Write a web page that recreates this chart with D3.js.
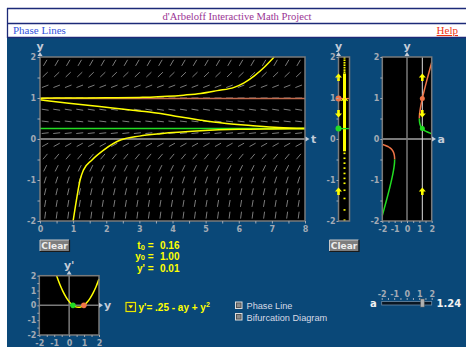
<!DOCTYPE html>
<html><head><meta charset="utf-8">
<script src="https://cdn.jsdelivr.net/npm/d3@7"></script>
<style>body{margin:0;background:#fff;} svg{display:block;}</style>
</head><body>
<svg id="c" width="466" height="347"></svg>
<script>
// ---------- DATA ----------
const eqConst = 0.25;            // y' = .25 - a y + y^2
const aValue = 1.24;
const t0Value = "0.16", y0Value = "1.00", yPrimeValue = "0.01";
const equilibria = [ {y: 0.9866, kind: "unstable"}, {y: 0.2534, kind: "stable"} ];
const tTicks = [0,1,2,3,4,5,6,7,8];
const yTicks = [-2,-1,0,1,2];
const aTicks = [-2,-1,0,1,2];
// solution curves (t, y)
const curveUp   = [[0,0.995],[1,1.0],[2,1.005],[3,1.015],[3.33,1.02],[3.84,1.04],[4.34,1.07],[4.85,1.11],[5.35,1.18],[5.86,1.26],[6.16,1.37],[6.47,1.54],[6.77,1.75],[7.07,2.0]];
const curveDown = [[0,0.955],[0.8,0.88],[1.8,0.79],[2.8,0.70],[3.3,0.66],[3.64,0.62],[4.2,0.54],[4.85,0.46],[5.5,0.39],[6.36,0.33],[7.2,0.28],[8,0.26]];
const curveRise = [[1,-2],[1.1,-1.49],[1.21,-1.0],[1.31,-0.76],[1.57,-0.51],[1.92,-0.27],[2.45,-0.02],[3,0.07],[3.64,0.13],[4.85,0.2],[6,0.235],[7,0.245],[8,0.25]];
// phase line trace
const traceDotsY = [1.98,1.92,1.86,1.80,1.74,1.68,1.63,-0.35,-0.47,-0.59,-0.71,-0.84,-0.96,-1.08,-1.25,-1.45,-1.73,-1.98];
const traceSolid = [1.6, -0.3];
const arrowYs = [1.5, 0.62, -1.28];
const arrowDirs = ["up","down","up"];
// bifurcation branches (a, y)
const bifUnstableRight = [[1.0,0.5],[1.01,0.576],[1.03,0.638],[1.06,0.706],[1.1,0.779],[1.2,0.932],[1.3,1.065],[1.4,1.19],[1.5,1.309],[1.6,1.425],[1.7,1.537],[1.8,1.648],[1.9,1.758],[2.0,1.866]];
const bifStableRight   = [[1.0,0.5],[1.01,0.434],[1.03,0.392],[1.06,0.354],[1.1,0.321],[1.2,0.268],[1.3,0.235],[1.4,0.21],[1.5,0.191],[1.6,0.176],[1.7,0.163],[1.8,0.152],[1.9,0.142],[2.0,0.134]];
const bifUnstableLeft  = [[-1.0,-0.5],[-1.01,-0.434],[-1.03,-0.392],[-1.06,-0.354],[-1.1,-0.321],[-1.2,-0.268],[-1.3,-0.235],[-1.4,-0.21],[-1.5,-0.191],[-1.6,-0.176],[-1.7,-0.163],[-1.8,-0.152],[-1.9,-0.142],[-2.0,-0.134]];
const bifStableLeft    = [[-1.0,-0.5],[-1.01,-0.576],[-1.03,-0.638],[-1.06,-0.706],[-1.1,-0.779],[-1.2,-0.932],[-1.3,-1.065],[-1.4,-1.19],[-1.5,-1.309],[-1.6,-1.425],[-1.7,-1.537],[-1.8,-1.648],[-1.9,-1.758],[-2.0,-1.866]];
// y' vs y parabola (y, y')
const parabola = [[-0.84,1.997],[-0.6,1.354],[-0.4,0.906],[-0.2,0.538],[0,0.25],[0.2,0.042],[0.4,-0.086],[0.62,-0.134],[0.8,-0.102],[1.0,0.01],[1.2,0.202],[1.4,0.474],[1.6,0.826],[1.8,1.258],[2.0,1.77]];

// ---------- STYLE ----------
const BLUE = "#0a4878", NAVY = "#1c2a78", GRID = "#7c7c7c", FRAME = "#7a7a7a";
const YEL = "#ffff00", ORG = "#f07548", ORGL = "#c26a4c", GRN = "#22dd22";
const TICKC = "#a3abb5", LABC = "#c4ccd8";
const SANS = "'DejaVu Sans', Verdana, sans-serif";
const ARIAL = "'Liberation Sans', Arial, sans-serif";
const SERIF = "'Liberation Serif', 'Times New Roman', serif";

const svg = d3.select("#c");
svg.append("rect").attr("width",466).attr("height",347).attr("fill","#fff");
svg.append("rect").attr("x",7).attr("y",38).attr("width",459).attr("height",309).attr("fill",BLUE);

// header
const hdr = svg.append("g");
[8.5,23.5,37.5].forEach(y=>hdr.append("line").attr("x1",7).attr("x2",466).attr("y1",y).attr("y2",y).attr("stroke",NAVY).attr("stroke-width",1.3));
hdr.append("line").attr("x1",7.5).attr("x2",7.5).attr("y1",8).attr("y2",38).attr("stroke",NAVY).attr("stroke-width",1.3);
hdr.append("text").attr("x",237).attr("y",19.8).attr("text-anchor","middle").attr("font-family",SERIF).attr("font-size",10.6).attr("fill","#9a3494").text("d'Arbeloff Interactive Math Project");
hdr.append("text").attr("x",13).attr("y",34).attr("font-family",SERIF).attr("font-size",11).attr("fill","#3355dd").text("Phase Lines");
hdr.append("text").attr("x",458).attr("y",34).attr("text-anchor","end").attr("font-family",SERIF).attr("font-size",11).attr("fill","#ee3311").attr("text-decoration","underline").text("Help");

// helpers
function styleAxis(g){
  g.select(".domain").remove();
  g.selectAll("line").attr("stroke",TICKC);
  g.selectAll("text").attr("fill",TICKC).attr("font-family",SANS).attr("font-size",8).attr("font-weight","bold");
}
function axisLabel(x,y,txt,anchor){
  svg.append("text").attr("x",x).attr("y",y).attr("text-anchor",anchor||"middle").attr("dominant-baseline","central")
    .attr("font-family",SANS).attr("font-size",11).attr("font-weight","bold").attr("fill",LABC).text(txt);
}
function arrowUpHead(x,y){ svg.append("path").attr("d",`M${x-2.5},${y+3}L${x},${y-1}L${x+2.5},${y+3}Z`).attr("fill",LABC); }
function arrowRightHead(x,y){ svg.append("path").attr("d",`M${x-3},${y-2.5}L${x+1},${y}L${x-3},${y+2.5}Z`).attr("fill",LABC); }
function blockArrow(g,x,y,dir){
  const s = dir==="up"?-1:1;
  g.append("path").attr("d",`M${x},${y+s*4} L${x+3.5},${y} L${x+1.3},${y} L${x+1.3},${y-s*3.5} L${x-1.3},${y-s*3.5} L${x-1.3},${y} L${x-3.5},${y} Z`).attr("fill",YEL);
}
function frame(x0,y0,x1,y1){
  svg.append("rect").attr("x",x0).attr("y",y0).attr("width",x1-x0).attr("height",y1-y0).attr("fill","none").attr("stroke",FRAME).attr("stroke-width",1.5);
}

// ---------- MAIN SLOPE FIELD PLOT ----------
const xM = d3.scaleLinear().domain([0,8]).range([40,305]);
const yM = d3.scaleLinear().domain([-2,2]).range([221,57]);
svg.append("rect").attr("x",40).attr("y",57).attr("width",265).attr("height",164).attr("fill","#000");
const f = y => eqConst - aValue*y + y*y;
const nCols = 23, nRows = 14, segLen = 7;
const field = [];
for(let i=0;i<nCols;i++) for(let j=0;j<nRows;j++){
  const t = (i+0.45)*8/nCols, y = -2 + (j+0.5)*4/nRows;
  field.push({t,y,s:f(y)});
}
const pxPerT = xM(1)-xM(0), pxPerY = yM(0)-yM(1);
svg.append("g").selectAll("line").data(field).join("line")
  .each(function(d){
    const dx = pxPerT, dy = -d.s*pxPerY, L = Math.hypot(dx,dy);
    const ux = dx/L*segLen/2, uy = dy/L*segLen/2;
    const cx = xM(d.t), cy = yM(d.y);
    d3.select(this).attr("x1",cx-ux).attr("y1",cy-uy).attr("x2",cx+ux).attr("y2",cy+uy);
  }).attr("stroke",GRID).attr("stroke-width",1);
// equilibrium lines
svg.append("line").attr("x1",xM(0)).attr("x2",xM(8)).attr("y1",yM(equilibria[0].y)).attr("y2",yM(equilibria[0].y)).attr("stroke",ORGL).attr("stroke-width",1.5);
svg.append("line").attr("x1",xM(0)).attr("x2",xM(8)).attr("y1",yM(equilibria[1].y)).attr("y2",yM(equilibria[1].y)).attr("stroke",GRN).attr("stroke-width",1.5);
// y=0 axis
svg.append("line").attr("x1",xM(0)).attr("x2",xM(8)).attr("y1",yM(0)).attr("y2",yM(0)).attr("stroke",FRAME).attr("stroke-width",2);
// solution curves
const solLine = d3.line().x(d=>xM(d[0])).y(d=>yM(d[1])).curve(d3.curveMonotoneX);
[curveUp,curveDown,curveRise].forEach(c=>svg.append("path").attr("d",solLine(c)).attr("fill","none").attr("stroke",YEL).attr("stroke-width",1.5));
frame(40,57,305,221);
// axes
styleAxis(svg.append("g").attr("transform","translate(40,0)").call(d3.axisLeft(yM).tickValues(yTicks).tickSize(0).tickPadding(4).tickFormat(String)));
styleAxis(svg.append("g").attr("transform","translate(40,0)").call(d3.axisLeft(yM).tickValues(d3.range(-2,2.01,0.5)).tickSize(2.5).tickFormat("")));
styleAxis(svg.append("g").attr("transform","translate(0,221)").call(d3.axisBottom(xM).tickValues(tTicks).tickSize(0).tickPadding(5).tickFormat(String)));
styleAxis(svg.append("g").attr("transform","translate(0,221)").call(d3.axisBottom(xM).tickValues(d3.range(0,8.01,0.5)).tickSize(2.5).tickFormat("")));
arrowUpHead(40,53); axisLabel(40,46.5,"y");
arrowRightHead(308.5,139); axisLabel(311,139,"t","start");

// ---------- PHASE LINE ----------
const xP0 = 338.5, xP1 = 349.5, xPT = 344.5;
svg.append("rect").attr("x",xP0).attr("y",57).attr("width",xP1-xP0).attr("height",164).attr("fill","#000");
const pg = svg.append("g");
pg.append("line").attr("x1",xPT).attr("x2",xPT).attr("y1",yM(traceSolid[0])).attr("y2",yM(traceSolid[1])).attr("stroke",YEL).attr("stroke-width",3);
pg.selectAll("rect.d").data(traceDotsY).join("rect").attr("x",xPT-1).attr("y",d=>yM(d)-0.8).attr("width",2).attr("height",1.6).attr("fill",YEL);
frame(xP0,57,xP1,221);
pg.append("line").attr("x1",xP0).attr("x2",xP1+0.5).attr("y1",yM(equilibria[0].y)).attr("y2",yM(equilibria[0].y)).attr("stroke",ORG).attr("stroke-width",1.3);
pg.append("line").attr("x1",xP0).attr("x2",xP1+0.5).attr("y1",yM(equilibria[1].y)).attr("y2",yM(equilibria[1].y)).attr("stroke",GRN).attr("stroke-width",1.3);
svg.append("circle").attr("cx",xP0).attr("cy",yM(equilibria[0].y)).attr("r",3).attr("fill",ORG);
svg.append("circle").attr("cx",xP0).attr("cy",yM(equilibria[1].y)).attr("r",3).attr("fill",GRN);
arrowYs.forEach((y,i)=>blockArrow(svg,xP0,yM(y),arrowDirs[i]));
svg.append("path").attr("d",`M${xPT-3},${yM(0.93)} L${xPT},${yM(1.02)} L${xPT+3},${yM(0.93)}`).attr("fill","none").attr("stroke",YEL).attr("stroke-width",1.3);
styleAxis(svg.append("g").attr("transform",`translate(${xP0},0)`).call(d3.axisLeft(yM).tickValues(yTicks).tickSize(0).tickPadding(3).tickFormat(String)));
styleAxis(svg.append("g").attr("transform",`translate(${xP0},0)`).call(d3.axisLeft(yM).tickValues(d3.range(-2,2.01,0.5)).tickSize(2).tickFormat("")));
arrowUpHead(xP0,53); axisLabel(xP0,46.5,"y");
// clear button
function clearBtn(x,y){
  svg.append("rect").attr("x",x).attr("y",y).attr("width",29).attr("height",11).attr("fill","#7d7d7d");
  svg.append("path").attr("d",`M${x},${y+11}L${x},${y}L${x+29},${y}`).attr("fill","none").attr("stroke","#c8c8c8").attr("stroke-width",1);
  svg.append("path").attr("d",`M${x},${y+11.5}L${x+29.5},${y+11.5}L${x+29.5},${y}`).attr("fill","none").attr("stroke","#1a1a1a").attr("stroke-width",1.2);
  svg.append("text").attr("x",x+14.5).attr("y",y+9).attr("text-anchor","middle").attr("font-family",SANS).attr("font-size",9).attr("font-weight","bold").attr("fill","#eeeeee").text("Clear");
}
clearBtn(40,240);
clearBtn(329.5,240);

// ---------- BIFURCATION ----------
const xB = d3.scaleLinear().domain([-2,2]).range([382.3,431.7]);
svg.append("rect").attr("x",xB(-2)).attr("y",57).attr("width",xB(2)-xB(-2)).attr("height",164).attr("fill","#000");
svg.append("line").attr("x1",xB(0)).attr("x2",xB(0)).attr("y1",57).attr("y2",221).attr("stroke",FRAME).attr("stroke-width",1.5);
svg.append("line").attr("x1",xB(-2)).attr("x2",xB(2)).attr("y1",yM(0)).attr("y2",yM(0)).attr("stroke",FRAME).attr("stroke-width",2);
svg.append("line").attr("x1",xB(aValue)).attr("x2",xB(aValue)).attr("y1",57).attr("y2",221).attr("stroke","#dddddd").attr("stroke-width",1);
const bifLine = d3.line().x(d=>xB(d[0])).y(d=>yM(d[1])).curve(d3.curveMonotoneY);
svg.append("path").attr("d",bifLine(bifUnstableRight)).attr("fill","none").attr("stroke",ORG).attr("stroke-width",1.5);
svg.append("path").attr("d",bifLine(bifStableRight)).attr("fill","none").attr("stroke",GRN).attr("stroke-width",1.5);
svg.append("path").attr("d",bifLine(bifUnstableLeft)).attr("fill","none").attr("stroke",ORG).attr("stroke-width",1.5);
svg.append("path").attr("d",bifLine(bifStableLeft)).attr("fill","none").attr("stroke",GRN).attr("stroke-width",1.5);
svg.append("circle").attr("cx",xB(aValue)).attr("cy",yM(equilibria[0].y)).attr("r",2.5).attr("fill",ORG);
svg.append("circle").attr("cx",xB(aValue)).attr("cy",yM(equilibria[1].y)).attr("r",2.5).attr("fill",GRN);
arrowYs.forEach((y,i)=>blockArrow(svg,xB(aValue),yM(y),arrowDirs[i]));
frame(xB(-2),57,xB(2),221);
styleAxis(svg.append("g").attr("transform",`translate(${xB(-2)},0)`).call(d3.axisLeft(yM).tickValues(yTicks).tickSize(0).tickPadding(3).tickFormat(String)));
styleAxis(svg.append("g").attr("transform",`translate(${xB(-2)},0)`).call(d3.axisLeft(yM).tickValues(d3.range(-2,2.01,0.5)).tickSize(2).tickFormat("")));
styleAxis(svg.append("g").attr("transform","translate(0,221)").call(d3.axisBottom(xB).tickValues(aTicks).tickSize(0).tickPadding(5).tickFormat(String)));
styleAxis(svg.append("g").attr("transform","translate(0,221)").call(d3.axisBottom(xB).tickValues(d3.range(-2,2.01,0.5)).tickSize(2).tickFormat("")));
arrowUpHead(xB(0),53); axisLabel(xB(0),46.5,"y");
arrowRightHead(435,139); axisLabel(437.5,139.5,"a","start");

// ---------- y' vs y SMALL PLOT ----------
const xS = d3.scaleLinear().domain([-2,2]).range([39.3,99]);
const yS = d3.scaleLinear().domain([-2,2]).range([335,275.7]);
svg.append("rect").attr("x",xS(-2)).attr("y",yS(2)).attr("width",xS(2)-xS(-2)).attr("height",yS(-2)-yS(2)).attr("fill","#000");
svg.append("line").attr("x1",xS(0)).attr("x2",xS(0)).attr("y1",yS(2)).attr("y2",yS(-2)).attr("stroke",FRAME).attr("stroke-width",1.5);
svg.append("line").attr("x1",xS(-2)).attr("x2",xS(2)).attr("y1",yS(0)).attr("y2",yS(0)).attr("stroke",FRAME).attr("stroke-width",1.5);
svg.append("path").attr("d",d3.line().x(d=>xS(d[0])).y(d=>yS(d[1])).curve(d3.curveMonotoneX)(parabola)).attr("fill","none").attr("stroke",YEL).attr("stroke-width",1.5);
svg.append("circle").attr("cx",xS(equilibria[1].y)).attr("cy",yS(0)).attr("r",2.8).attr("fill",GRN);
svg.append("circle").attr("cx",xS(equilibria[0].y)).attr("cy",yS(0)).attr("r",2.8).attr("fill",ORG);
frame(xS(-2),yS(2),xS(2),yS(-2));
styleAxis(svg.append("g").attr("transform",`translate(${xS(-2)},0)`).call(d3.axisLeft(yS).tickValues(yTicks).tickSize(0).tickPadding(3).tickFormat(String)));
styleAxis(svg.append("g").attr("transform",`translate(${xS(-2)},0)`).call(d3.axisLeft(yS).tickValues(d3.range(-2,2.01,0.5)).tickSize(2).tickFormat("")));
styleAxis(svg.append("g").attr("transform",`translate(0,${yS(-2)})`).call(d3.axisBottom(xS).tickValues(yTicks).tickSize(0).tickPadding(5).tickFormat(String)));
styleAxis(svg.append("g").attr("transform",`translate(0,${yS(-2)})`).call(d3.axisBottom(xS).tickValues(d3.range(-2,2.01,0.5)).tickSize(2).tickFormat("")));
arrowUpHead(xS(0),271.5); axisLabel(xS(0),265.5,"y'");
arrowRightHead(102,yS(0)); axisLabel(104,yS(0)+0.5,"y","start");

// ---------- TEXT READOUTS ----------
const tg = svg.append("g").attr("font-family",ARIAL).attr("font-weight","bold").attr("font-size",10).attr("fill",YEL);
const r1 = tg.append("text").attr("x",153.5).attr("y",248.5).attr("text-anchor","end");
r1.append("tspan").text("t"); r1.append("tspan").attr("dy",1.5).attr("font-size",7.5).text("0"); r1.append("tspan").attr("dy",-1.5).text(" =");
const r2 = tg.append("text").attr("x",153.5).attr("y",260.3).attr("text-anchor","end");
r2.append("tspan").text("y"); r2.append("tspan").attr("font-size",7.5).text("0"); r2.append("tspan").text(" =");
tg.append("text").attr("x",153.5).attr("y",272.1).attr("text-anchor","end").text("y' =");
tg.append("text").attr("x",160).attr("y",248.5).text(t0Value);
tg.append("text").attr("x",160).attr("y",260.3).text(y0Value);
tg.append("text").attr("x",160).attr("y",272.1).text(yPrimeValue);

// equation with dropdown
svg.append("rect").attr("x",126).attr("y",302.5).attr("width",9.5).attr("height",9).attr("fill","#1d3a5a").attr("stroke","#e8e800").attr("stroke-width",1.2);
svg.append("path").attr("d","M128.3,305.3L133.2,305.3L130.75,308.6Z").attr("fill",YEL);
const eq = tg.append("text").attr("x",138.5).attr("y",311);
eq.append("tspan").text("y'= .25 - ay + y");
eq.append("tspan").attr("dy",-4).attr("font-size",7).text("2");

// checkboxes
function checkbox(y,label){
  svg.append("rect").attr("x",235.5).attr("y",y).attr("width",6.5).attr("height",6.5).attr("fill","#555").attr("stroke","#dddddd").attr("stroke-width",1);
  svg.append("rect").attr("x",237).attr("y",y+1.5).attr("width",3.5).attr("height",3.5).attr("fill","#8a8a8a");
  svg.append("text").attr("x",246.5).attr("y",y+7).attr("font-family",ARIAL).attr("font-size",9.2).attr("fill","#d6dae6").text(label);
}
checkbox(302,"Phase Line");
checkbox(313.5,"Bifurcation Diagram");

// slider
const xSl = d3.scaleLinear().domain([-2,2]).range([381.7,431.7]);
svg.append("text").attr("x",373.3).attr("y",303.5).attr("text-anchor","middle").attr("dominant-baseline","central").attr("font-family",SANS).attr("font-size",10).attr("font-weight","bold").attr("fill","#f2f2f2").text("a");
svg.append("rect").attr("x",xSl(-2)).attr("y",301.5).attr("width",xSl(2)-xSl(-2)).attr("height",3.5).attr("fill","#081522").attr("stroke","#6d8aa6").attr("stroke-width",0.8);
const slAx = svg.append("g").attr("transform","translate(0,300)").call(d3.axisTop(xSl).tickValues(d3.range(-2,2.01,0.5)).tickSize(2).tickFormat(""));
styleAxis(slAx);
const slLab = svg.append("g").attr("transform","translate(0,298)").call(d3.axisTop(xSl).tickValues(aTicks).tickSize(0).tickPadding(1).tickFormat(String));
styleAxis(slLab);
svg.append("rect").attr("x",xSl(aValue)-1.5).attr("y",299).attr("width",3.5).attr("height",8).attr("fill","#b0b0b0").attr("stroke","#666").attr("stroke-width",0.5);
svg.append("text").attr("x",436.5).attr("y",303.5).attr("dominant-baseline","central").attr("font-family",SANS).attr("font-size",10).attr("font-weight","bold").attr("fill","#f2f2f2").text(aValue.toFixed(2));
</script>
</body></html>
